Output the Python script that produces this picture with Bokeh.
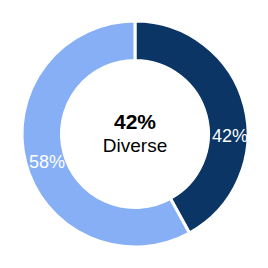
import math
from bokeh.plotting import figure
from bokeh.models import Range1d, ColumnDataSource
from bokeh.core.properties import value
from bokeh.embed import file_html
from bokeh.resources import INLINE

categories = ["Diverse", "Not diverse"]
shares = [42, 58]
labels = ["42%", "58%"]
colors = ["#0a3564", "#86aff5"]
center_title = "42%"
center_sub = "Diverse"

W = H = 268
cx, cy = 134.5, 134.5
r_out, r_in = 113.0, 73.5

total = sum(shares)
starts, ends, mids = [], [], []
a = math.pi / 2
for s in shares:
    sweep = 2 * math.pi * s / total
    starts.append(a)
    ends.append(a - sweep)
    mids.append(a - sweep / 2)
    a -= sweep

src = ColumnDataSource(dict(start=starts, end=ends, color=colors,
                            x=[cx] * len(shares), y=[cy] * len(shares)))

p = figure(width=W, height=H, output_backend="svg", toolbar_location=None,
           x_range=Range1d(0, W), y_range=Range1d(0, H), min_border=0)
p.axis.visible = False
p.grid.visible = False
p.outline_line_color = None
p.background_fill_color = "white"

p.annular_wedge(x="x", y="y", inner_radius=r_in, outer_radius=r_out,
                start_angle="start", end_angle="end", direction="clock",
                fill_color="color", line_color="white", line_width=3, source=src)

# slice labels
r_lab = 94
lx = [cx + r_lab * math.cos(m) for m in mids]
ly = [cy + r_lab * math.sin(m) for m in mids]
x_off = [4, 3]
y_off = [25, 5]
lsrc = ColumnDataSource(dict(x=lx, y=ly, t=labels, xo=x_off, yo=y_off))
p.text(x="x", y="y", text="t", x_offset="xo", y_offset="yo", source=lsrc,
       text_color="white", text_font=value("Liberation Sans"),
       text_font_size="18px", text_align="center", text_baseline="middle")

p.text(x=[cx], y=[cy], text=[center_title], y_offset=-13,
       text_color="black", text_font=value("Liberation Sans"),
       text_font_size="21px", text_font_style="bold",
       text_align="center", text_baseline="middle")
p.text(x=[cx], y=[cy], text=[center_sub], y_offset=11,
       text_color="black", text_font=value("Liberation Sans"),
       text_font_size="19px",
       text_align="center", text_baseline="middle")

open("out.html", "w").write(file_html(p, INLINE))
